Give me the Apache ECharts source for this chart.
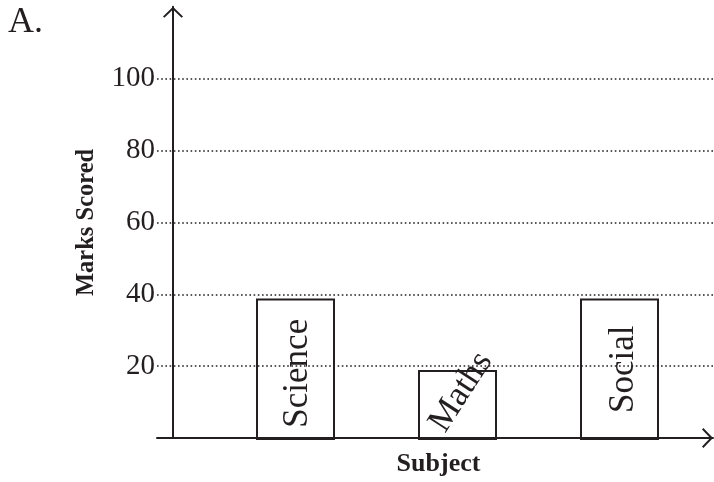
<!DOCTYPE html>
<html>
<head>
<meta charset="utf-8">
<script src="https://cdn.jsdelivr.net/npm/echarts@6/dist/echarts.min.js"></script>
<style>html,body{margin:0;padding:0;background:#fff}#c{width:714px;height:482px}</style>
</head>
<body>
<div id="c"></div>
<script>
var subjects = ['Science', 'Maths', 'Social'];
var marks = [39.2, 19.4, 39.2];
var yTicks = [0, 20, 40, 60, 80, 100, 120];
var panelLabel = 'A.';
var yTitle = 'Marks Scored';
var xTitle = 'Subject';

var ink = '#231f20';
var serif = '"Liberation Serif", "DejaVu Serif", serif';
var chevron = 'path://M10,0 L20,9.6 L18.6,11 L10,2.8 L1.4,11 L0,9.6 Z';

var labelStyles = [
  {position: 'inside', rotate: 90, offset: [-4, 2.7]},
  {position: 'inside', rotate: 57, offset: [12.8, -4.1]},
  {position: 'inside', rotate: 90, offset: [0, 4.5]}
];

var barData = marks.map(function (v, i) {
  return {value: v, label: labelStyles[i]};
});

var chart = echarts.init(document.getElementById('c'));
chart.setOption({
  animation: false,
  backgroundColor: '#fff',
  title: {
    text: panelLabel, left: 8, top: 5, padding: 0,
    textStyle: {fontFamily: serif, fontSize: 36, fontWeight: 'normal', color: ink}
  },
  grid: [
    {left: 157, right: 1, top: 6.8, bottom: 42},
    {left: 214.5, right: 13.5, top: 6.8, bottom: 42}
  ],
  xAxis: [
    {
      gridIndex: 0, type: 'value', min: 0, max: 1,
      axisLabel: {show: false}, axisTick: {show: false}, splitLine: {show: false},
      axisLine: {show: true, symbol: ['none', chevron], symbolSize: [20, 11], symbolOffset: [0, -5.5],
        lineStyle: {color: ink, width: 2}},
      name: xTitle, nameLocation: 'middle', nameGap: 13,
      nameTextStyle: {fontFamily: serif, fontSize: 26, fontWeight: 'bold', color: ink, padding: [0, 0, 0, 7]}
    },
    {
      gridIndex: 1, type: 'category', data: subjects,
      axisLabel: {show: false}, axisTick: {show: false}, axisLine: {show: false}, splitLine: {show: false}
    }
  ],
  yAxis: [
    {
      gridIndex: 0, type: 'value', min: yTicks[0], max: yTicks[yTicks.length - 1], interval: 20,
      offset: -16,
      axisLine: {show: true, symbol: ['none', chevron], symbolSize: [20, 11], symbolOffset: [0, -5.5],
        lineStyle: {color: ink, width: 2}},
      axisTick: {show: false},
      axisLabel: {show: true, showMinLabel: false, showMaxLabel: false, margin: 18,
        fontFamily: serif, fontSize: 29, color: ink},
      splitLine: {show: true, showMinLine: false, showMaxLine: false,
        lineStyle: {color: ink, width: 1.6, type: [1.6, 2.6]}},
      name: yTitle, nameLocation: 'middle', nameGap: 74, nameRotate: 90,
      nameTextStyle: {fontFamily: serif, fontSize: 24.5, fontWeight: 'bold', color: ink}
    },
    {
      gridIndex: 1, type: 'value', min: yTicks[0], max: yTicks[yTicks.length - 1],
      axisLine: {show: false}, axisTick: {show: false}, axisLabel: {show: false}, splitLine: {show: false}
    }
  ],
  series: [{
    type: 'bar', xAxisIndex: 1, yAxisIndex: 1,
    data: barData, barWidth: 79,
    itemStyle: {color: 'rgba(255,255,255,0)', borderColor: ink, borderWidth: 2},
    label: {show: true, formatter: '{b}', fontFamily: serif, fontSize: 35, color: ink},
    emphasis: {disabled: true}
  }]
});
</script>
</body>
</html>
